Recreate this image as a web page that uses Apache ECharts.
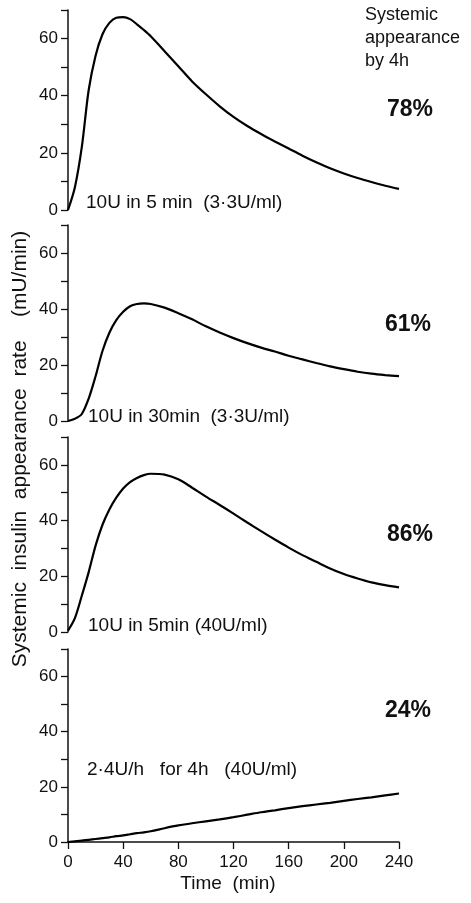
<!DOCTYPE html>
<html>
<head>
<meta charset="utf-8">
<script src="https://cdn.jsdelivr.net/npm/echarts@6/dist/echarts.min.js"></script>
<style>
html,body{margin:0;padding:0;background:#fff;}
#chart{width:471px;height:903px;}
</style>
</head>
<body>
<div id="chart"></div>
<script>
// Time points (min)
const times = [0,5,10,15,20,25,30,35,40,45,50,55,60,70,80,90,100,110,120,130,140,150,160,170,180,190,200,210,220,230,240];
// Systemic insulin appearance rate (mU/min)
const rate10U5min33 = [0,8,22,42,54,61.5,65.5,67.3,67.5,66.8,65,63,60.8,55.6,50.3,45,40.5,36.3,32.6,29.4,26.6,24,21.5,19,16.7,14.6,12.8,11.2,9.8,8.5,7.4];
const rate10U30min33 = [0,0.8,2.5,8,16,25,31.5,36,39,41,41.8,42,41.8,40.5,38.5,36.3,33.8,31.6,29.6,27.8,26.2,24.8,23.3,22,20.7,19.5,18.5,17.6,16.9,16.4,16];
const rate10U5min40 = [0.5,5,13,21.5,31,38.5,44,48.2,51.5,53.8,55.3,56.3,56.8,56.5,54.8,51.8,48.6,45.6,42.5,39.3,36.2,33.2,30.3,27.6,25.2,22.8,20.8,19.2,17.8,16.8,16];
const rate24Uh40 = [0,0.2,0.5,0.8,1.1,1.4,1.7,2.1,2.4,2.8,3.2,3.5,3.9,5,6,6.8,7.5,8.2,9,9.9,10.8,11.5,12.3,13,13.6,14.2,14.9,15.6,16.2,16.9,17.6];

const panelLabels = ['10U in 5 min  (3\u00b73U/ml)', '10U in 30min  (3\u00b73U/ml)', '10U in 5min (40U/ml)', '2\u00b74U/h   for 4h   (40U/ml)'];
const percents = ['78%', '61%', '86%', '24%'];
const xTicks = [0,40,80,120,160,200,240];
const yTicks = [0,20,40,60];

const seriesData = [rate10U5min33, rate10U30min33, rate10U5min40, rate24Uh40];

const FONT = '"Liberation Sans", Arial, Helvetica, sans-serif';
const grids = [
  {left:68, width:331, top:10, height:200},
  {left:68, width:331, top:225, height:196},
  {left:68, width:331, top:437, height:195},
  {left:68, width:331, top:649, height:193}
];
const labelPos = [[86,203],[88,417],[88,626],[87,770]];
const pctPos = [[410,110],[408,325],[410,535],[408,711]];

const chart = echarts.init(document.getElementById('chart'), null, {renderer:'canvas'});

const xAxes = grids.map((g,i)=>({
  type:'value', gridIndex:i, min:0, max:240, interval:40,
  show: i===3,
  axisLine:{show:true, onZero:false, lineStyle:{color:'#111', width:1.5}},
  axisTick:{show:true, inside:false, length:7, lineStyle:{color:'#111', width:1.3}},
  splitLine:{show:false},
  axisLabel:{fontSize:17, color:'#111', fontFamily:FONT, margin:12,
    formatter:(v)=> xTicks.indexOf(v)>=0 ? String(v) : ''}
}));

const yAxes = grids.map((g,i)=>({
  type:'value', gridIndex:i, min:0, max:70, interval:10,
  axisLine:{show:true, lineStyle:{color:'#111', width:1.5}},
  axisTick:{show:true, inside:false, length:7, lineStyle:{color:'#111', width:1.3}},
  splitLine:{show:false},
  axisLabel:{fontSize:17, color:'#111', fontFamily:FONT, margin:10,
    showMaxLabel:true,
    formatter:(v)=> yTicks.indexOf(v)>=0 ? String(v) : ''}
}));

const series = seriesData.map((d,i)=>({
  type:'line', xAxisIndex:i, yAxisIndex:i,
  data: times.map((t,k)=>[t, d[k]]),
  smooth:0.3, showSymbol:false, symbol:'none',
  lineStyle:{color:'#000', width:2.2},
  silent:true, animation:false
}));

const graphics = [];
panelLabels.forEach((t,i)=>{
  graphics.push({type:'text', x:labelPos[i][0], y:labelPos[i][1],
    style:{text:t, fontSize:19, fill:'#111', fontFamily:FONT, textAlign:'left', textVerticalAlign:'middle'}});
});
percents.forEach((t,i)=>{
  graphics.push({type:'text', x:pctPos[i][0], y:pctPos[i][1],
    style:{text:t, fontSize:23, fontWeight:'bold', fill:'#111', fontFamily:FONT,
      textAlign:'center', textVerticalAlign:'middle'}});
});
graphics.push({type:'text', x:365, y:4,
  style:{text:'Systemic\nappearance\nby 4h', fontSize:18, lineHeight:23, fill:'#111', fontFamily:FONT,
    textAlign:'left', textVerticalAlign:'top'}});
graphics.push({type:'text', x:20, y:449, rotation:Math.PI/2,
  style:{text:'Systemic  insulin  appearance  rate    (mU/min)', fontSize:21, fill:'#111', fontFamily:FONT,
    textAlign:'center', textVerticalAlign:'middle'}});
graphics.push({type:'text', x:228, y:884,
  style:{text:'Time  (min)', fontSize:19, fill:'#111', fontFamily:FONT,
    textAlign:'center', textVerticalAlign:'middle'}});

chart.setOption({
  animation:false,
  backgroundColor:'#fff',
  grid: grids,
  xAxis: xAxes,
  yAxis: yAxes,
  series: series,
  graphic: graphics
});
</script>
</body>
</html>
